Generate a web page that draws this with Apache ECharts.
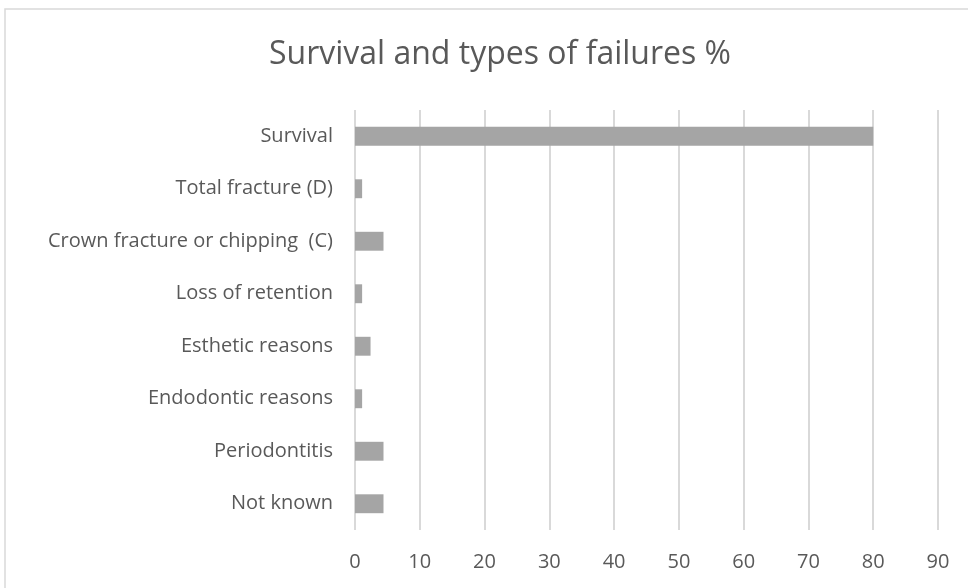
<!DOCTYPE html>
<html>
<head>
<meta charset="utf-8">
<script src="https://cdn.jsdelivr.net/npm/echarts@6/dist/echarts.min.js"></script>
<style>
  html, body { margin: 0; padding: 0; background: #fff; }
  #chart { width: 968px; height: 588px; }
</style>
</head>
<body>
<div id="chart"></div>
<script>
// categories from top to bottom as in the picture
var categories = [
    'Survival',
    'Total fracture (D)',
    'Crown fracture or chipping  (C)',
    'Loss of retention',
    'Esthetic reasons',
    'Endodontic reasons',
    'Periodontitis',
    'Not known'
];
var values = [80, 1.1, 4.4, 1.1, 2.4, 1.1, 4.4, 4.4];
var xTicks = [0, 10, 20, 30, 40, 50, 60, 70, 80, 90];

var textColor = '#595959';
var fontFam = '"Open Sans", "Liberation Sans", sans-serif';

var chart = echarts.init(document.getElementById('chart'));
chart.setOption({
    animation: false,
    backgroundColor: '#fff',
    title: {
        text: 'Survival and types of failures %',
        left: 495,
        textAlign: 'center',
        top: 34,
        textStyle: { color: textColor, fontSize: 32, fontWeight: 'normal', fontFamily: fontFam }
    },
    graphic: [{
        type: 'rect',
        shape: { x: 5, y: 9, width: 980, height: 600 },
        style: { fill: 'none', stroke: '#d9d9d9', lineWidth: 1.5 },
        silent: true
    }],
    grid: { left: 355, right: 30, top: 110, bottom: 58, containLabel: false },
    xAxis: {
        type: 'value',
        min: xTicks[0],
        max: xTicks[xTicks.length - 1],
        interval: 10,
        axisLine: { show: false },
        axisTick: { show: false },
        splitLine: { lineStyle: { color: '#d9d9d9', width: 2 } },
        axisLabel: { color: textColor, fontSize: 20, fontFamily: fontFam, margin: 22 }
    },
    yAxis: {
        type: 'category',
        inverse: true,
        data: categories,
        axisLine: { show: false },
        axisTick: { show: false },
        axisLabel: { color: textColor, fontSize: 20, fontFamily: fontFam, margin: 22 }
    },
    series: [{
        type: 'bar',
        data: values,
        barWidth: '36%',
        itemStyle: { color: '#a5a5a5' }
    }]
});
</script>
</body>
</html>
